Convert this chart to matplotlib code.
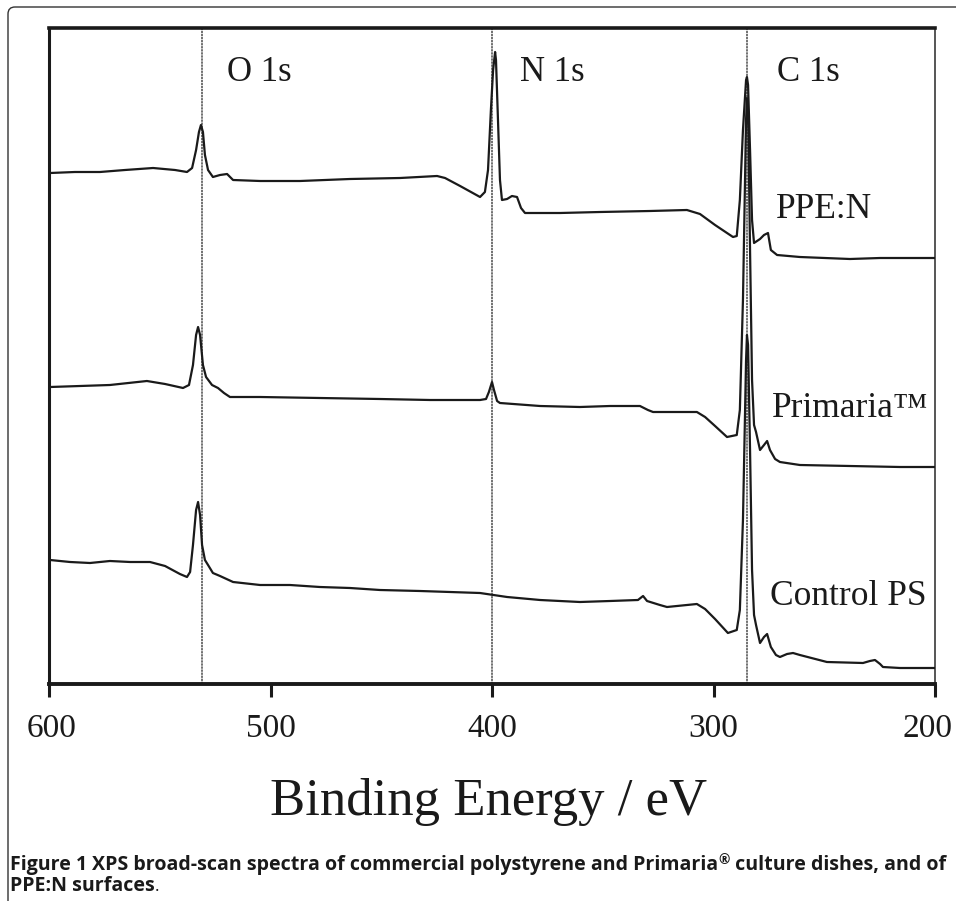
import matplotlib
matplotlib.use("Agg")
import matplotlib.pyplot as plt
from matplotlib.path import Path
from matplotlib.patches import PathPatch
from matplotlib.transforms import ScaledTranslation

# ---------------- data (binding energy in eV, intensity in arbitrary offset units) ----------------
ppen_E = [599.5, 588.3, 577.0, 565.7, 553.0, 543.1, 537.7, 535.4, 533.6, 532.3, 531.4, 530.5, 529.6,
          528.2, 526.0, 522.8, 519.6, 516.9, 504.7, 486.7, 464.1, 441.5, 424.8, 421.2, 414.4, 405.4,
          403.2, 401.8, 400.5, 399.5, 398.6, 398.2, 397.3, 396.4, 395.5, 393.2, 391.0, 388.7, 386.9,
          385.1, 369.3, 351.2, 328.7, 312.0, 306.1, 299.3, 291.2, 289.5, 288.1, 286.7, 285.3, 284.9,
          284.4, 283.5, 282.6, 281.7, 279.0, 277.2, 275.4, 274.1, 271.3, 261.0, 238.4, 224.8, 200.0]
ppen_I = [511, 512, 512, 514, 516, 514, 512, 516, 534, 552, 559, 552, 529,
          514, 507, 509, 510, 504, 503, 503, 505, 506, 508, 506, 498, 487,
          492, 514, 574, 614, 632, 624, 564, 504, 484, 485, 488, 487, 476,
          471, 471, 472, 473, 474, 470, 459, 447, 448, 484, 554, 604, 607,
          599, 534, 464, 441, 445, 449, 451, 434, 429, 427, 425, 426, 426]

prim_E = [599.5, 586.0, 572.5, 555.8, 547.6, 539.5, 536.8, 535.0, 533.6, 532.7, 531.8, 530.5, 529.1,
          526.4, 523.7, 521.0, 518.3, 504.7, 477.7, 450.6, 428.0, 405.4, 402.7, 401.4, 400.0, 399.1,
          397.7, 396.4, 378.3, 360.3, 346.7, 333.2, 329.6, 327.3, 307.5, 303.8, 299.3, 293.9, 289.5,
          288.1, 286.7, 285.3, 284.9, 284.4, 283.5, 282.6, 281.7, 280.8, 279.0, 277.2, 275.8, 274.5,
          272.2, 270.0, 261.0, 238.4, 215.8, 200.0]
prim_I = [297, 298, 299, 303, 300, 296, 299, 319, 349, 357, 349, 319, 307,
          299, 296, 291, 287, 287, 286, 285, 284, 284, 285, 292, 302, 294,
          283, 281, 278, 277, 278, 278, 274, 272, 272, 267, 258, 247, 249,
          274, 384, 564, 586, 574, 434, 304, 259, 252, 234, 239, 243, 234,
          225, 222, 219, 218, 217, 217]

ctrl_E = [599.5, 590.5, 581.5, 572.5, 563.4, 554.4, 547.6, 540.9, 537.7, 536.3, 535.0, 533.6, 532.7,
          531.8, 530.9, 529.6, 528.2, 526.0, 522.8, 516.9, 504.7, 491.2, 477.7, 464.1, 450.6, 432.5,
          405.4, 393.2, 378.3, 360.3, 346.7, 334.1, 331.8, 330.0, 324.2, 321.0, 307.5, 303.8, 299.3,
          293.5, 289.5, 288.1, 286.7, 285.3, 284.9, 284.4, 283.5, 282.6, 281.7, 280.8, 279.0, 277.2,
          275.8, 274.1, 271.8, 270.0, 266.8, 264.1, 261.0, 248.8, 232.5, 229.4, 227.1, 224.8, 223.5,
          215.8, 200.0]
ctrl_I = [124, 122, 121, 123, 122, 122, 118, 110, 107, 112, 139, 174, 182,
          169, 139, 124, 119, 111, 108, 102, 99, 99, 97, 96, 94, 93,
          91, 87, 84, 82, 83, 84, 88, 83, 79, 77, 80, 75, 65,
          51, 54, 74, 164, 324, 349, 339, 234, 114, 69, 59, 41, 47,
          50, 37, 29, 27, 30, 31, 29, 22, 21, 23, 24, 20, 17,
          16, 16]

ref_lines = [531, 400, 285]
ref_labels = ["O 1s", "N 1s", "C 1s"]
series_labels = ["PPE:N", "Primaria\u2122", "Control PS"]
x_ticks = [600, 500, 400, 300, 200]
x_label = "Binding Energy / eV"
caption_bold = "Figure 1"
caption_rest = "XPS broad-scan spectra of commercial polystyrene and Primaria"
caption_after = "culture dishes, and of"
caption_line2 = "PPE:N surfaces"

# ---------------- figure ----------------
W, H = 956, 901
DPI = 100
plt.rcParams["font.family"] = ["Liberation Serif", "DejaVu Serif"]
fig = plt.figure(figsize=(W / DPI, H / DPI), dpi=DPI)

def fx(px):
    return px / W

def fy(py):
    return 1 - py / H

ax = fig.add_axes([fx(49), fy(684), fx(935) - fx(49), fy(28) - fy(684)])
ax.set_xlim(600, 200)
ax.set_ylim(0, 656)

for xv in ref_lines:
    ax.axvline(xv, color="#4a4a4a", lw=1.1, ls=(0, (1.5, 0.5)), zorder=1)

line_kw = dict(color="#1a1a1a", lw=1.6, solid_joinstyle="round", zorder=3)
ax.plot(ppen_E, ppen_I, **line_kw)
ax.plot(prim_E, prim_I, **line_kw)
ax.plot(ctrl_E, ctrl_I, **line_kw)

ax.spines["top"].set_linewidth(2.6)
ax.spines["left"].set_linewidth(2.2)
ax.spines["bottom"].set_linewidth(2.8)
ax.spines["right"].set_linewidth(1.4)
ax.spines["right"].set_color("#555555")
for s in ["top", "left", "bottom"]:
    ax.spines[s].set_color("#1a1a1a")

ax.set_yticks([])
ax.set_xticks(x_ticks)
ax.set_xticklabels([str(t) for t in x_ticks])
ax.tick_params(axis="x", direction="out", length=9.5, width=2.2, color="#1a1a1a",
               labelsize=24, pad=12, labelcolor="#1a1a1a")
# keep the right-most label inside the figure, as in the reference
last = ax.get_xticklabels()[-1]
last.set_transform(last.get_transform() + ScaledTranslation(-8 / DPI, 0, fig.dpi_scale_trans))
first = ax.get_xticklabels()[0]
first.set_transform(first.get_transform() + ScaledTranslation(3 / DPI, 0, fig.dpi_scale_trans))

# peak labels
for lbl, px in zip(ref_labels, [227, 520, 777]):
    fig.text(fx(px), fy(81), lbl, fontsize=25, color="#1a1a1a", ha="left", va="baseline")

# series labels
for lbl, (px, py) in zip(series_labels, [(776, 218), (772, 417), (770, 605)]):
    fig.text(fx(px), fy(py), lbl, fontsize=25.5, color="#1a1a1a", ha="left", va="baseline")

fig.text(fx(489), fy(815), x_label, fontsize=38, color="#1a1a1a", ha="center", va="baseline")

# page border with rounded top-left corner
verts = [(fx(8), fy(901)), (fx(8), fy(14)), (fx(8), fy(7)), (fx(15), fy(7)), (fx(956), fy(7))]
codes = [Path.MOVETO, Path.LINETO, Path.CURVE3, Path.CURVE3, Path.LINETO]
fig.add_artist(PathPatch(Path(verts, codes), transform=fig.transFigure, fill=False,
                         edgecolor="#333333", lw=1.0))

# caption (justified first line)
cap_font = ["Liberation Sans Narrow", "Open Sans", "DejaVu Sans"]
renderer = fig.canvas.get_renderer()

def place_line(pieces, x0, base_py, fs):
    arts = []
    x = x0
    for txt, weight, scale, raise_px in pieces:
        t = fig.text(fx(x), fy(base_py + raise_px), txt, fontsize=fs * scale, weight=weight,
                     family=cap_font, color="#1a1a1a", ha="left", va="baseline")
        bb = t.get_window_extent(renderer=renderer)
        x += bb.width
        arts.append(t)
    return arts, x - x0

pieces1 = [(caption_bold + " ", "bold", 1.0, 0),
           (caption_rest, "bold", 1.0, 0),
           ("\u00ae", "bold", 0.7, -6),
           (" " + caption_after, "bold", 1.0, 0)]
fs = 12.0
arts, width = place_line(pieces1, 10, 870, fs)
for a in arts:
    a.remove()
fs = fs * 935.0 / width
arts, width = place_line(pieces1, 10, 870, fs)

pieces2 = [(caption_line2, "bold", 1.0, 0), (".", "normal", 0.85, 0)]
place_line(pieces2, 10, 891, fs)

fig.savefig("out.png", dpi=DPI, facecolor="white")
